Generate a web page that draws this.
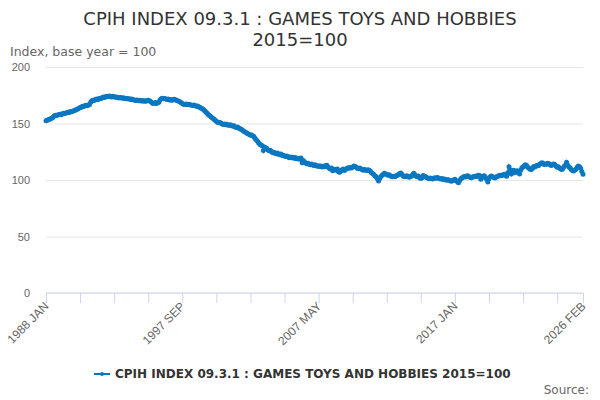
<!DOCTYPE html>
<html>
<head>
<meta charset="utf-8">
<script src="https://cdn.jsdelivr.net/npm/d3@7"></script>
<style>
  body { margin: 0; background: #fff; }
  svg { font-family: "DejaVu Sans", sans-serif; }
</style>
</head>
<body>
<div class="chart"></div>
<script>
const title = ["CPIH INDEX 09.3.1 : GAMES TOYS AND HOBBIES", "2015=100"];
const seriesName = "CPIH INDEX 09.3.1 : GAMES TOYS AND HOBBIES 2015=100";
const yTicks = [0, 50, 100, 150, 200];
const monthNames = ["JAN", "FEB", "MAR", "APR", "MAY", "JUN", "JUL", "AUG", "SEP", "OCT", "NOV", "DEC"];
const xLabels = ["1988 JAN", "1997 SEP", "2007 MAY", "2017 JAN", "2026 FEB"];

// monthly index values, one row per year from 1988
const values = [
  152.4, 152.9, 153.3, 153.8, 154.1, 154.9, 155.6, 156.8, 157.2, 157.0, 157.6, 157.9,
  158.2, 157.8, 158.6, 159.1, 158.9, 159.4, 159.8, 159.6, 160.3, 160.1, 160.7, 161.0,
  161.2, 161.9, 162.5, 162.8, 163.6, 164.1, 164.4, 165.2, 165.0, 165.8, 166.1, 165.7,
  166.4, 166.9, 168.8, 170.2, 170.6, 170.3, 171.2, 171.6, 171.1, 172.0, 172.4, 172.2,
  172.9, 173.4, 173.1, 173.8, 174.2, 173.9, 174.4, 173.7, 173.5, 174.1, 173.6, 173.2,
  173.4, 173.0, 172.6, 173.1, 172.8, 172.3, 172.7, 172.1, 171.8, 172.2, 171.6, 171.9,
  171.3, 171.7, 171.2, 170.8, 170.4, 170.9, 170.5, 170.1, 170.6, 170.0, 170.4, 169.7,
  170.1, 169.6, 170.3, 170.6, 170.2, 169.4, 168.6, 167.7, 167.9, 168.5, 167.8, 168.3,
  168.9, 170.8, 171.9, 172.3, 171.8, 172.1, 171.6, 171.2, 171.7, 170.9, 171.3, 170.6,
  170.8, 171.4, 171.0, 170.5, 170.1, 169.8, 169.2, 168.4, 167.6, 167.1, 166.9, 167.3,
  166.8, 167.0, 166.5, 166.7, 166.2, 165.9, 166.3, 165.6, 165.2, 165.5, 164.7, 164.3,
  163.6, 163.0, 162.4, 161.3, 160.1, 159.2, 158.0, 157.3, 156.5, 155.4, 154.6, 153.8,
  152.9, 152.1, 151.2, 150.6, 150.9, 150.3, 149.5, 149.1, 149.6, 148.9, 149.3, 148.5,
  148.4, 149.0, 148.3, 147.6, 147.9, 147.0, 146.5, 146.9, 146.0, 145.4, 145.0, 144.3,
  143.3, 142.7, 142.2, 141.4, 141.0, 140.3, 139.6, 139.9, 139.0, 138.4, 136.8, 135.4,
  134.2, 132.8, 131.6, 130.9, 130.2, 126.0, 129.3, 128.4, 127.9, 126.6, 125.8, 126.3,
  125.1, 124.2, 124.6, 123.7, 123.2, 123.9, 122.8, 122.3, 122.9, 121.6, 122.0, 121.2,
  120.8, 121.3, 120.5, 119.8, 120.4, 119.6, 120.1, 119.3, 119.9, 118.7, 119.2, 118.5,
  118.6, 119.5, 115.3, 117.2, 116.0, 115.1, 114.3, 114.8, 113.9, 113.4, 114.1, 113.2,
  112.8, 113.4, 112.6, 112.1, 112.7, 111.9, 112.3, 111.6, 112.2, 111.8, 112.9, 113.1,
  111.6, 110.4, 109.8, 110.6, 108.2, 108.9, 109.6, 108.7, 109.8, 107.4, 106.8, 108.1,
  109.0, 109.7, 108.5, 109.3, 110.2, 110.8, 110.4, 111.1, 110.7, 111.6, 112.3, 111.9,
  111.2, 110.5, 109.9, 110.6, 109.8, 109.2, 108.7, 109.3, 108.9, 108.4, 109.1, 108.6,
  107.9, 106.4, 105.8, 104.9, 103.6, 102.8, 101.1, 99.2, 101.4, 103.2, 104.1, 105.0,
  105.9, 105.3, 104.8, 104.1, 104.6, 103.7, 103.2, 102.8, 103.4, 102.9, 103.8, 104.2,
  104.9, 105.8, 106.2, 104.9, 103.6, 102.9, 103.1, 103.8, 103.3, 102.5, 103.0, 103.4,
  104.6, 105.9, 104.7, 103.4, 102.8, 103.5, 102.1, 101.3, 102.0, 103.9, 102.8, 103.1,
  102.2, 101.5, 101.0, 101.7, 101.3, 100.8, 101.5, 102.1, 101.6, 102.3, 101.8, 101.2,
  100.9, 101.4, 100.5, 100.9, 100.2, 99.7, 100.4, 99.8, 99.3, 98.9, 99.6, 100.1,
  100.6, 99.4, 98.7, 97.6, 99.3, 101.0, 101.8, 102.6, 103.2, 102.7, 103.5, 103.8,
  102.9, 102.4, 101.9, 102.6, 103.1, 102.8, 103.6, 103.2, 104.1, 103.9, 100.6, 102.2,
  103.3, 103.7, 102.5, 100.4, 98.3, 101.2, 102.8, 103.6, 102.9, 102.4, 101.8, 102.6,
  103.1, 103.5, 104.2, 103.8, 104.0, 104.6, 105.1, 104.3, 103.4, 106.5, 111.8, 109.0,
  105.2, 107.9, 108.6, 106.4, 107.8, 108.2, 106.9, 105.3, 108.7, 110.9, 111.4, 112.6,
  113.6, 112.8, 111.2, 110.5, 109.6, 109.2, 110.4, 111.9, 111.5, 112.4, 113.0, 112.6,
  113.8, 114.6, 115.3, 114.9, 113.7, 114.2, 113.9, 114.8, 114.3, 113.4, 112.9, 113.6,
  114.1, 113.7, 112.5, 111.2, 111.8, 110.6, 109.7, 109.3, 110.5, 112.2, 113.1, 115.8,
  113.0, 111.6, 110.9, 109.2, 108.3, 108.0, 108.9, 109.6, 111.2, 112.3, 111.8, 110.4,
  107.6, 105.0
];

const categories = values.map((v, i) => `${1988 + Math.floor(i / 12)} ${monthNames[i % 12]}`);
const data = values.map((v, i) => ({ label: categories[i], value: v }));

const width = 600;
const height = 400;
const margin = { left: 46, right: 17, top: 67, bottom: 107 };
const color = "#0a77c2";

const svg = d3
  .select(".chart")
  .append("svg")
  .attr("width", width)
  .attr("height", height);

svg
  .append("text")
  .attr("x", width / 2)
  .attr("text-anchor", "middle")
  .style("font-size", "18px")
  .style("fill", "#333")
  .selectAll("tspan")
  .data(title)
  .enter()
  .append("tspan")
  .attr("x", width / 2)
  .attr("y", (d, i) => 25 + i * 21)
  .text(d => d);

svg
  .append("text")
  .attr("x", 10)
  .attr("y", 56)
  .style("font-size", "12.5px")
  .style("fill", "#666")
  .text("Index, base year = 100");

const xScale = d3
  .scalePoint()
  .domain(categories)
  .range([margin.left, width - margin.right]);

const yScale = d3
  .scaleLinear()
  .domain([0, 200])
  .range([height - margin.bottom, margin.top]);

// gridlines and y labels
const yAxis = d3
  .axisLeft(yScale)
  .tickValues(yTicks)
  .tickSize(-(width - margin.left - margin.right))
  .tickPadding(16);
const yG = svg
  .append("g")
  .attr("transform", `translate(${margin.left}, 0)`)
  .call(yAxis);
yG.select(".domain").remove();
yG.selectAll(".tick line").attr("stroke", "#e6e6e6");
yG.selectAll(".tick text")
  .style("font-size", "11px")
  .style("fill", "#666")
  .attr("dy", "0.32em");

// x axis: tick every 29 months plus the last month
const tickIdx = d3.range(0, categories.length, 29).concat([categories.length - 1]);
const xAxis = d3
  .axisBottom(xScale)
  .tickValues(tickIdx.map(i => categories[i]))
  .tickSize(10)
  .tickFormat(d => (xLabels.includes(d) ? d : ""));
const xG = svg
  .append("g")
  .attr("transform", `translate(0, ${height - margin.bottom})`)
  .call(xAxis);
xG.select(".domain").attr("stroke", "#ccd6eb").attr("d", `M${margin.left},0H${width - margin.right}`);
xG.selectAll(".tick line").attr("stroke", "#ccd6eb");
xG.selectAll(".tick text")
  .style("font-size", "12px")
  .style("fill", "#666")
  .attr("text-anchor", "end")
  .attr("y", 0)
  .attr("dy", "0.35em")
  .attr("transform", "translate(0, 11) rotate(-45)");

const line = d3
  .line()
  .x(d => xScale(d.label))
  .y(d => yScale(d.value));

svg
  .append("path")
  .datum(data)
  .attr("d", line)
  .attr("fill", "none")
  .attr("stroke", color)
  .attr("stroke-width", 2);

svg
  .append("g")
  .selectAll("circle")
  .data(data)
  .enter()
  .append("circle")
  .attr("cx", d => xScale(d.label))
  .attr("cy", d => yScale(d.value))
  .attr("r", 2.5)
  .attr("fill", color);

// legend
const legend = svg.append("g").attr("transform", "translate(94, 374)");
legend
  .append("line")
  .attr("x1", 0)
  .attr("x2", 16)
  .attr("stroke", color)
  .attr("stroke-width", 2);
legend.append("circle").attr("cx", 8).attr("r", 2).attr("fill", color);
legend
  .append("text")
  .attr("x", 21)
  .attr("dy", "0.35em")
  .style("font-size", "12px")
  .style("font-weight", "bold")
  .style("fill", "#333")
  .text(seriesName);

svg
  .append("text")
  .attr("x", 589)
  .attr("y", 394)
  .attr("text-anchor", "end")
  .style("font-size", "12px")
  .style("fill", "#666")
  .text("Source:");
</script>
</body>
</html>
